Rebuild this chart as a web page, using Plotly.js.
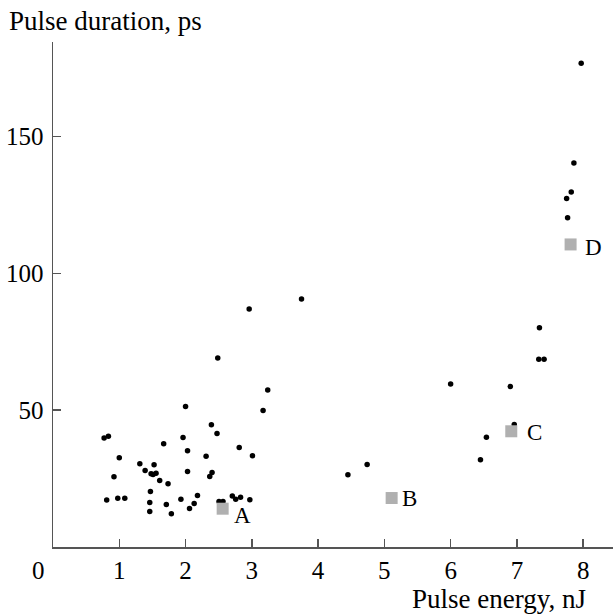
<!DOCTYPE html>
<html>
<head>
<meta charset="utf-8">
<script src="https://cdn.plot.ly/plotly-3.0.1.min.js"></script>
<style>html,body{margin:0;padding:0;background:#fff;}#chart{width:613px;height:614px;}</style>
</head>
<body>
<div id="chart"></div>
<script>
// Measured points: pulse energy (nJ) and pulse duration (ps)
const energy = [2.96, 2.486, 3.24, 3.17, 2.0, 0.771, 0.836, 2.39, 2.475, 1.962, 1.67, 2.81, 2.03, 3.01, 2.31,
  1.0, 1.31, 1.525, 1.39, 1.48, 1.51, 1.555, 2.03, 2.365, 2.40, 0.92, 1.61, 1.736, 1.47,
  0.81, 0.977, 1.083, 1.46, 1.71, 1.46, 1.786, 1.93, 2.18, 2.13, 2.06, 2.505, 2.565, 2.706, 2.757, 2.83, 2.97,
  3.75, 4.45, 4.74, 6.0, 6.9, 6.54, 6.45, 6.96, 7.34, 7.33, 7.41, 7.97, 7.86, 7.82, 7.75, 7.765];
const duration = [87.0, 69.1, 57.4, 49.9, 51.4, 39.8, 40.5, 44.7, 41.5, 40.0, 37.7, 36.4, 35.2, 33.4, 33.2,
  32.6, 30.4, 30.1, 28.0, 26.8, 26.5, 27.0, 27.6, 25.8, 27.2, 25.7, 24.3, 23.1, 20.3,
  17.2, 17.8, 17.8, 16.3, 15.5, 13.0, 12.2, 17.5, 18.8, 15.9, 14.1, 16.6, 16.6, 18.6, 17.5, 18.2, 17.3,
  90.7, 26.4, 30.2, 59.6, 58.7, 40.1, 31.9, 44.8, 80.1, 68.6, 68.6, 176.8, 140.4, 129.8, 127.4, 120.4];
// Marked points A-D
const markLabels = ["A", "B", "C", "D"];
const markEnergy = [2.56, 5.11, 6.915, 7.81];
const markDuration = [14.0, 17.9, 42.3, 110.6];
const xTicks = [1, 2, 3, 4, 5, 6, 7, 8];
const yTicks = [50, 100, 150];

const serif = "'Liberation Serif'";
const labelShift = [[20, -7], [18, 0], [23, -1], [23, -3]];

const traces = [
  {x: energy, y: duration, type: "scatter", mode: "markers",
   marker: {color: "#000", size: 5.5}, hoverinfo: "skip", cliponaxis: false},
  {x: markEnergy, y: markDuration, type: "scatter", mode: "markers",
   marker: {color: "#b0b0b0", size: 12, symbol: "square"}, hoverinfo: "skip", cliponaxis: false}
];

const annotations = markLabels.map((t, i) => ({
  x: markEnergy[i], y: markDuration[i], xref: "x", yref: "y", text: t, showarrow: false,
  xshift: labelShift[i][0], yshift: labelShift[i][1], font: {family: serif, size: 23, color: "#000"}
}));
annotations.push(
  {xref: "paper", yref: "paper", x: -0.026, y: -0.046, text: "0", showarrow: false,
   xanchor: "center", yanchor: "middle", font: {family: serif, size: 25, color: "#000"}},
  {xref: "paper", yref: "paper", x: 0.955, y: -0.102, text: "Pulse energy, nJ", showarrow: false,
   xanchor: "right", yanchor: "middle", font: {family: serif, size: 27, color: "#000"}},
  {xref: "paper", yref: "paper", x: -0.083, y: 1.042, text: "Pulse duration, ps", showarrow: false,
   xanchor: "left", yanchor: "middle", font: {family: serif, size: 27, color: "#000"}}
);

const layout = {
  width: 613, height: 614,
  margin: {l: 52.5, r: 0, t: 42, b: 67.3},
  paper_bgcolor: "#fff", plot_bgcolor: "#fff",
  showlegend: false,
  font: {family: serif},
  xaxis: {range: [0, 8.45], tickvals: xTicks, ticktext: xTicks.map(String), ticks: "inside", ticklen: 8,
    tickcolor: "#555", tickwidth: 1.5, showline: true, linecolor: "#555", linewidth: 1.5,
    showgrid: false, zeroline: false, tickfont: {family: serif, size: 25, color: "#000"}, ticklabelstandoff: 0},
  yaxis: {range: [0, 184.6], tickvals: yTicks, ticktext: yTicks.map(String), ticks: "inside", ticklen: 8,
    tickcolor: "#555", tickwidth: 1.5, showline: true, linecolor: "#555", linewidth: 1.5,
    showgrid: false, zeroline: false, tickfont: {family: serif, size: 25, color: "#000"}, ticklabelstandoff: 3},
  annotations: annotations
};

Plotly.newPlot("chart", traces, layout, {staticPlot: true, displayModeBar: false});
</script>
</body>
</html>
